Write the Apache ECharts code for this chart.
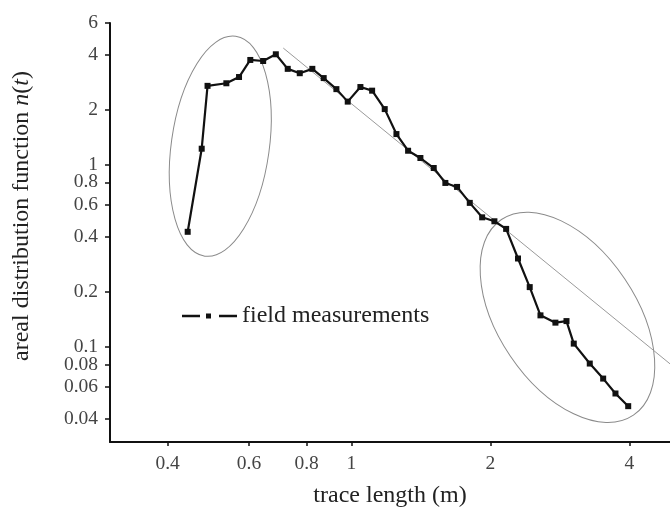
<!DOCTYPE html>
<html>
<head>
<meta charset="utf-8">
<script src="https://cdn.jsdelivr.net/npm/echarts@6/dist/echarts.min.js"></script>
<style>
    html, body { margin: 0; padding: 0; background: #fff; }
    #chart { width: 670px; height: 514px; }
</style>
</head>
<body>
<div id="chart"></div>
<script>
// trace length (m) and areal distribution n(t)
const traceLength = [0.442, 0.474, 0.488, 0.536, 0.571, 0.604, 0.644, 0.686, 0.728, 0.773,
    0.823, 0.871, 0.928, 0.982, 1.046, 1.109, 1.181, 1.252, 1.327, 1.411,
    1.508, 1.598, 1.694, 1.805, 1.920, 2.041, 2.164, 2.296, 2.434, 2.568,
    2.767, 2.924, 3.032, 3.284, 3.511, 3.733, 3.978];
const arealDensity = [0.428, 1.224, 2.71, 2.80, 3.03, 3.76, 3.71, 4.04, 3.36, 3.18,
    3.36, 2.99, 2.60, 2.22, 2.67, 2.55, 2.02, 1.473, 1.193, 1.088,
    0.959, 0.794, 0.755, 0.617, 0.514, 0.489, 0.444, 0.3054, 0.2127, 0.1488,
    0.1357, 0.1384, 0.1041, 0.0809, 0.0669, 0.0554, 0.0472];

// power law fit (grey line)
const fitX = [0.712, 4.9];
const fitY = [4.37, 0.0806];

const xTicks = [0.4, 0.6, 0.8, 1, 2, 4];
const yTicks = [0.04, 0.06, 0.08, 0.1, 0.2, 0.4, 0.6, 0.8, 1, 2, 4, 6];

// highlighted groups: centre in data units
const ellipseCenters = [[0.520, 1.263], [2.938, 0.1451]];

const FONT = '"Liberation Serif", "DejaVu Serif", serif';
const lg = Math.log10;

function pairs(xs, ys) {
    return xs.map((x, i) => [lg(x), lg(ys[i])]);
}
function tickLabel(v) {
    return String(Math.round(Math.pow(10, v) * 1000) / 1000);
}

const chart = echarts.init(document.getElementById('chart'));
const option = {
    animation: false,
    grid: { left: 110, right: 0, top: 23, bottom: 72 },
    legend: {
        left: 177,
        top: 299,
        itemWidth: 55,
        itemHeight: 5,
        itemGap: 6,
        data: [{
            name: 'field measurements',
            icon: 'path://M0,1.2h18v2.6h-18zM24,0h5v5h-5zM37,1.2h18v2.6h-18z'
        }],
        textStyle: { fontFamily: FONT, fontSize: 24, color: '#222', padding: [0, 0, 0, 0] }
    },
    xAxis: {
        type: 'value',
        min: lg(0.3),
        max: lg(4.9),
        name: 'trace length (m)',
        nameLocation: 'middle',
        nameGap: 42,
        nameTextStyle: { fontFamily: FONT, fontSize: 24, color: '#222' },
        axisLine: { onZero: false, lineStyle: { color: '#111', width: 2 } },
        axisTick: { customValues: xTicks.map(lg), length: 4, lineStyle: { color: '#111', width: 1.5 } },
        axisLabel: {
            customValues: xTicks.map(lg),
            formatter: tickLabel,
            margin: 12,
            fontFamily: FONT, fontSize: 19.5, color: '#444'
        },
        splitLine: { show: false }
    },
    yAxis: {
        type: 'value',
        min: lg(0.03),
        max: lg(6),
        name: 'areal distribution function {i|n}({i|t})',
        nameLocation: 'middle',
        nameGap: 76,
        nameTextStyle: {
            fontFamily: FONT, fontSize: 24, color: '#222',
            padding: [0, 0, 0, 33],
            rich: { i: { fontFamily: FONT, fontSize: 24, fontStyle: 'italic', color: '#222' } }
        },
        axisLine: { onZero: false, lineStyle: { color: '#111', width: 2 } },
        axisTick: { customValues: yTicks.map(lg), length: 5, lineStyle: { color: '#111', width: 1.5 } },
        axisLabel: {
            customValues: yTicks.map(lg),
            formatter: tickLabel,
            margin: 12,
            fontFamily: FONT, fontSize: 19.5, color: '#444'
        },
        splitLine: { show: false }
    },
    series: [
        {
            name: 'power law fit',
            type: 'line',
            data: pairs(fitX, fitY),
            symbol: 'none',
            lineStyle: { color: '#9a9a9a', width: 1 },
            silent: true,
            z: 1
        },
        {
            name: 'field measurements',
            type: 'line',
            data: pairs(traceLength, arealDensity),
            symbol: 'rect',
            symbolSize: 6,
            itemStyle: { color: '#111' },
            lineStyle: { color: '#111', width: 2.2 },
            z: 3
        }
    ]
};
chart.setOption(option);

// ellipse size in px, rotation in degrees (counter-clockwise positive)
const ellipseShapes = [
    { rx: 49, ry: 111, rot: -8 },
    { rx: 118, ry: 69, rot: -56 }
];
const graphics = ellipseCenters.map((c, i) => {
    const p = chart.convertToPixel({ gridIndex: 0 }, [lg(c[0]), lg(c[1])]);
    const s = ellipseShapes[i];
    return {
        type: 'ellipse',
        x: p[0],
        y: p[1],
        rotation: s.rot * Math.PI / 180,
        shape: { cx: 0, cy: 0, rx: s.rx, ry: s.ry },
        style: { fill: 'none', stroke: '#8a8a8a', lineWidth: 1 },
        silent: true,
        z: 0
    };
});
chart.setOption({ graphic: graphics });
</script>
</body>
</html>
